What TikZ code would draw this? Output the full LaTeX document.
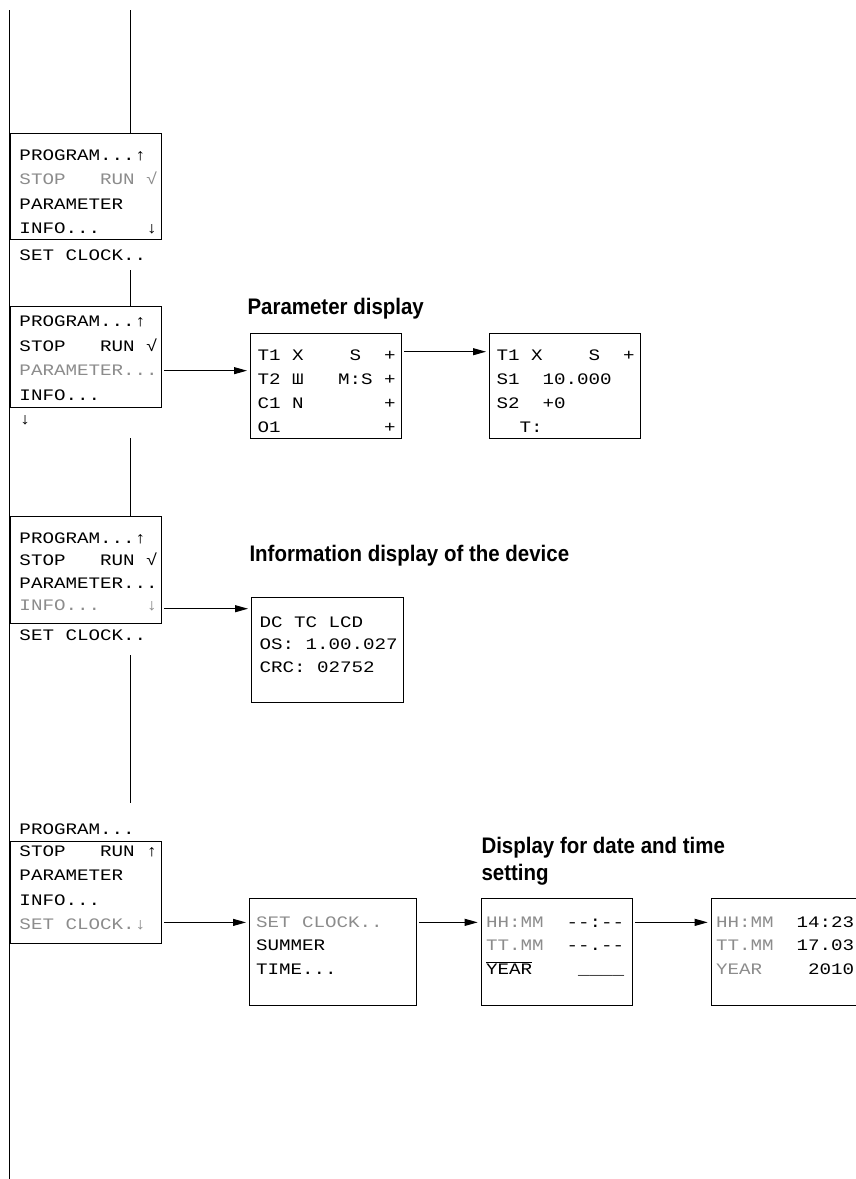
\documentclass[tikz,border=0pt]{standalone}
\usepackage{fontspec}
\usepackage{tikz}
\usetikzlibrary{positioning,arrows.meta}
\newfontfamily\lcdfont[FakeStretch=1.2]{Liberation Mono}
\newfontfamily\headfont[FakeStretch=0.91]{Liberation Sans}
\colorlet{dim}{black!45}
\tikzset{every picture/.style={line width=1pt}}
\tikzset{
  screen/.style={draw, rectangle, line width=1.3pt, anchor=north west, inner sep=0pt},
  lcd/.style={font=\lcdfont\fontsize{16}{#1}\selectfont, align=left, anchor=base west, inner sep=0pt},
  lcd/.default=24.5,
  heading/.style={font=\headfont\bfseries\fontsize{22.5}{27}\selectfont, align=left, anchor=base west, inner sep=0pt},
  link/.style={-{Triangle[length=13pt,width=7pt]}, shorten <=2pt, shorten >=3pt}
}

\begin{document}
\begin{tikzpicture}[x=1pt, y=-1pt]
    \useasboundingbox (0,0) rectangle (855,1179);

    % Menu screens
    \node[screen, minimum width=151.4pt, minimum height=106pt] (menu1) at (9.3,132.7) {};
    \node[screen, minimum width=151.4pt, minimum height=101pt] (menu2) at (9.3,305.7) {};
    \node[screen, minimum width=151.4pt, minimum height=106.7pt] (menu3) at (9.3,516) {};
    \node[screen, minimum width=151.4pt, minimum height=101.7pt] (menu4) at (9.3,841) {};

    % Display screens
    \node[screen, minimum width=151pt, minimum height=105.3pt] (par1) at (250,332.7) {};
    \node[screen, minimum width=151pt, minimum height=105.3pt] (par2) at (489,332.7) {};
    \node[screen, minimum width=152pt, minimum height=105pt] (info) at (251,597) {};
    \node[screen, minimum width=166.5pt, minimum height=107pt] (clockmenu) at (249,897.5) {};
    \node[screen, minimum width=151pt, minimum height=107pt] (date1) at (480.7,897.5) {};
    \node[screen, minimum width=170pt, minimum height=107pt] (date2) at (710.7,897.5) {};

    % Screen texts (placed at the baseline of their last line)
    \node[lcd] (menu1txt) at (19,260) {PROGRAM...↑\\ \textcolor{dim}{STOP~~~RUN~√}\\ PARAMETER\\ INFO...~~~~↓\\[2pt] SET~CLOCK..};
    \node[lcd] (menu2txt) at (19,424.5) {PROGRAM...↑\\ STOP~~~RUN~√\\ \textcolor{dim}{PARAMETER...}\\ INFO...\\ ↓};
    \node[lcd=22.5] (menu3txt) at (19,640) {PROGRAM...↑\\ STOP~~~RUN~√\\ PARAMETER...\\ \textcolor{dim}{INFO...~~~~↓}\\[7pt] SET~CLOCK..};
    \node[lcd] (menu4txt) at (19,929.5) {PROGRAM...\\[-2.5pt] STOP~~~RUN~↑\\ PARAMETER\\ INFO...\\ \textcolor{dim}{SET~CLOCK.↓}};
    \node[lcd=24] (par1txt) at (257,432) {T1~X~~~~S~~+\\ T2~Ш~~~M:S~+\\ C1~N~~~~~~~+\\ O1~~~~~~~~~+};
    \node[lcd=24] (par2txt) at (496,432) {T1~X~~~~S~~+\\ S1~~10.000\\ S2~~+0\\ ~~T:};
    \node[lcd=22.5] (infotxt) at (259,672) {DC~TC~LCD\\ OS:~1.00.027\\ CRC:~02752};
    \node[lcd=23.5] (clocktxt) at (255.5,974) {\textcolor{dim}{SET~CLOCK..}\\ SUMMER\\ TIME...};
    \node[lcd=23.5] (date1txt) at (485.5,974) {\textcolor{dim}{HH:MM}~~-{}-:-{}-\\ \textcolor{dim}{TT.MM}~~-{}-.-{}-\\ $\overline{\hbox{YEAR}}$~~~~\_\_\_\_};
    \node[lcd=23.5] (date2txt) at (715.5,974) {\textcolor{dim}{HH:MM}~~14:23\\ \textcolor{dim}{TT.MM}~~17.03\\ \textcolor{dim}{YEAR}~~~~2010};

    % Guide lines
    \coordinate (outtop) at (9.3,10);
    \coordinate (outbot) at (9.3,1179);
    \draw (outtop) -- (outbot);
    \coordinate (intop) at (130,10);
    \draw (intop) -- (intop |- menu1.north);
    \coordinate (in2) at (130,270);
    \draw (in2) -- (in2 |- menu2.north);
    \coordinate (in3) at (130,438);
    \draw (in3) -- (in3 |- menu3.north);
    \coordinate (in4a) at (130,655);
    \coordinate (in4b) at (130,803);
    \draw (in4a) -- (in4b);

    % Connections
    \draw[link] ([yshift=-13.8pt]menu2.east) -- ([yshift=-13.8pt]menu2.east -| par1.west);
    \draw[link] ([yshift=34.3pt]par1.east) -- ([yshift=34.3pt]par1.east -| par2.west);
    \draw[link] ([yshift=-38.7pt]menu3.east) -- ([yshift=-38.7pt]menu3.east -| info.west);
    \draw[link] ([yshift=-29.9pt]menu4.east) -- ([yshift=-29.9pt]menu4.east -| clockmenu.west);
    \draw[link] ([yshift=29.3pt]clockmenu.east) -- ([yshift=29.3pt]clockmenu.east -| date1.west);
    \draw[link] ([yshift=29.3pt]date1.east) -- ([yshift=29.3pt]date1.east -| date2.west);

    % Labels
    \node[heading] (partitle) at (247,314.3) {Parameter display};
    \node[heading] (infotitle) at (249,561) {Information display of the device};
    \node[heading] (clocktitle) at (481,880) {Display for date and time\\ setting};
\end{tikzpicture}
\end{document}
